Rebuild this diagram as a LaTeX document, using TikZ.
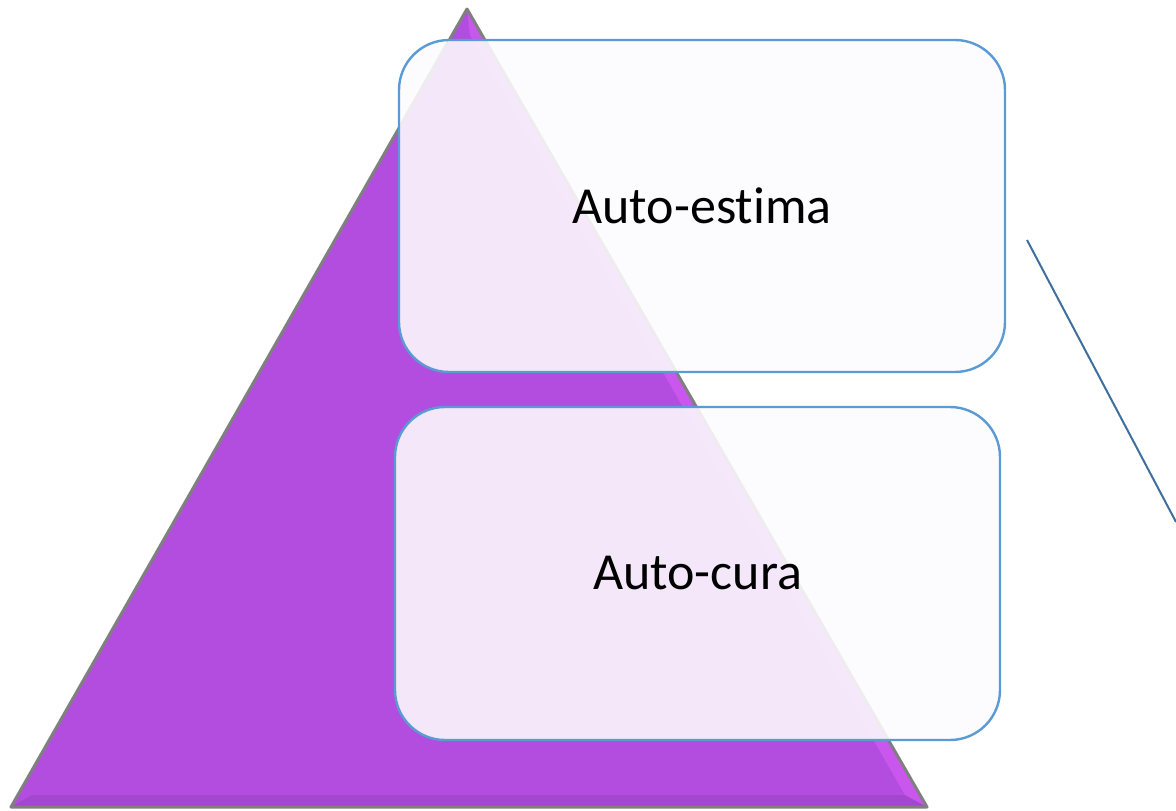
\documentclass[tikz,border=0pt]{standalone}
\usepackage{fontspec}
\setmainfont{Carlito}[Ligatures=NoCommon]
\definecolor{pyrfill}{HTML}{B34DE0}
\definecolor{pyredge}{HTML}{7F7F7F}
\definecolor{pyrlight}{HTML}{D35CF5}
\definecolor{boxedge}{HTML}{5B9BD5}
\definecolor{boxtint}{HTML}{FCFAFD}
\definecolor{linkblue}{HTML}{3F6E9F}
\tikzset{
  x=1pt, y=-1pt,
  levelbox/.style={draw=boxedge, line width=2.4pt, fill=boxtint, fill opacity=0.89,
    draw opacity=1, text opacity=1, rounded corners=50pt, inner sep=0pt,
    font=\fontsize{52}{60}\selectfont},
}
\begin{document}
\begin{tikzpicture}
\useasboundingbox (0,0) rectangle (1176,811);
% pyramid with a soft bevel along its edges
\coordinate (apex) at (467,9);
\coordinate (bl) at (11,807);
\coordinate (br) at (927,807);
\fill[pyrfill] (apex) -- (bl) -- (br) -- cycle;
\fill[pyrlight, opacity=0.7] (apex) -- (br) -- (905,795) -- (470,35) -- cycle;
\fill[black, opacity=0.08] (bl) -- (br) -- (905,795) -- (32,795) -- cycle;
\draw[pyredge, line width=3pt, line join=round] (apex) -- (bl) -- (br) -- cycle;
% the two levels
\node[levelbox, minimum width=606pt, minimum height=332pt] (esteem) at (702,206) {Auto-estima};
\node[levelbox, minimum width=605pt, minimum height=333pt] (care) at (697.5,573.5) {Auto-cura};
% connector leaving the picture on the right
\coordinate (linkstart) at (1027,240);
\coordinate (linkend) at (1176,522);
\draw[linkblue, line width=2pt] (linkstart) -- (linkend);
\end{tikzpicture}
\end{document}
